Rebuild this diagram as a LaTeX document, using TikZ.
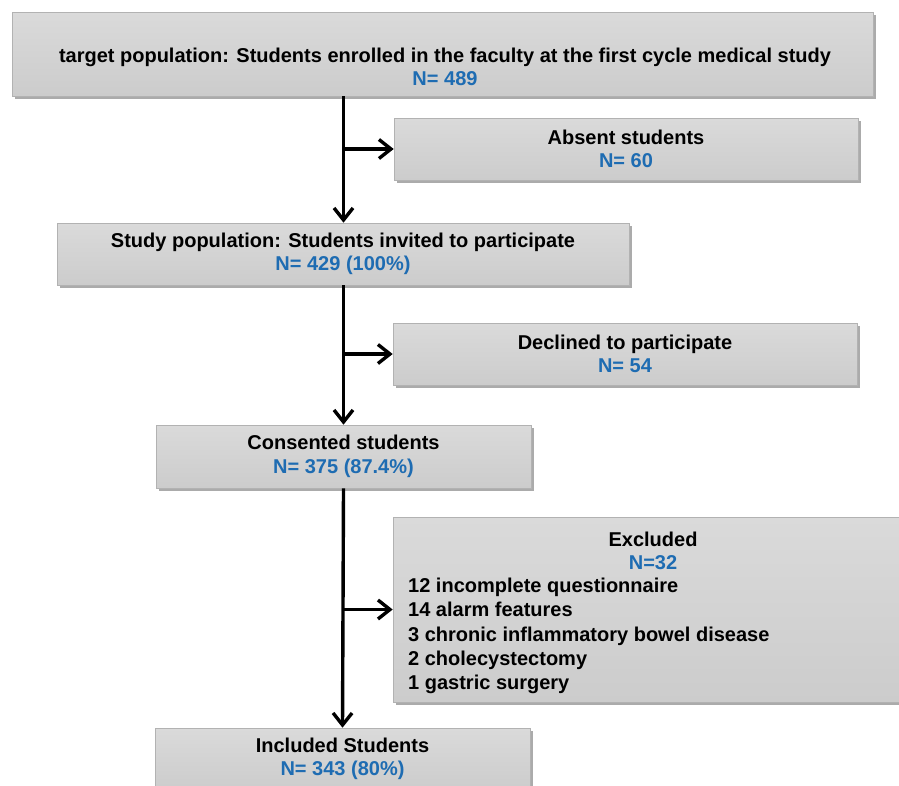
\documentclass[tikz,border=0pt]{standalone}
\usepackage{fontspec}
\setmainfont{Liberation Sans}
\usetikzlibrary{arrows.meta,shadows}

\definecolor{boxgray}{RGB}{204,204,204}
\definecolor{boxtop}{RGB}{218,218,218}
\definecolor{boxedge}{RGB}{178,178,178}
\definecolor{nblue}{RGB}{30,108,178}

\newcommand{\nval}[1]{\textcolor{nblue}{#1}}

\tikzset{
  boxfont/.style={font=\fontsize{20}{23.5}\selectfont\bfseries},
  box/.style={rectangle, draw=boxedge, line width=0.6pt, top color=boxtop, bottom color=boxgray,
    inner sep=0pt, align=center, boxfont,
    drop shadow={shadow xshift=2.5pt, shadow yshift=-3pt, fill=black!60, opacity=0.55}},
  flow/.style={line width=3.4pt, -{Straight Barb[length=12pt,width=19pt]}},
}

\begin{document}
\begin{tikzpicture}[x=1pt,y=-1pt]

  \path[use as bounding box, fill=white] (0,0) rectangle (899,785);
  \clip (0,0) rectangle (899,785);

  % boxes
  \node[box, minimum width=861pt, minimum height=84pt] (target) at (442.5,54) {};
  \node[boxfont, align=center, inner sep=0pt] (targettext) at (445,67)
    {target population: Students enrolled in the faculty at the first cycle medical study\\\nval{N= 489}};

  \node[box, minimum width=464pt, minimum height=62pt] (absent) at (626,149)
    {Absent students\\\nval{N= 60}};

  \node[box, minimum width=572pt, minimum height=62pt] (study) at (343,254)
    {Study population: Students invited to participate\\\nval{N= 429 (100\%)}};

  \node[box, minimum width=464pt, minimum height=62pt] (declined) at (625,354)
    {Declined to participate\\\nval{N= 54}};

  \node[box, minimum width=375pt, minimum height=63pt] (consented) at (343.5,456.5)
    {Consented students\\\nval{N= 375 (87.4\%)}};

  \node[box, minimum width=519pt, minimum height=185pt] (excluded) at (652.5,609.5) {};
  \node[boxfont, align=center, inner sep=0pt] (exhead) at (653,551)
    {Excluded\\\nval{N=32}};
  \node[boxfont, align=left, anchor=west, inner sep=0pt, font=\fontsize{20}{24.2}\selectfont\bfseries] (exlist) at (408,636)
    {12 incomplete questionnaire\\14 alarm features\\3 chronic inflammatory bowel disease\\2 cholecystectomy\\1 gastric surgery};

  \node[box, minimum width=375pt, minimum height=62pt] (included) at (342.5,759)
    {Included Students\\\nval{N= 343 (80\%)}};

  % main line
  \draw[flow] (target.south -| consented.north) -- (study.north -| consented.north);
  \draw[flow] (study.south -| consented.north) -- (consented.north);
  \draw[flow] (consented.south) -- (included.north);

  % side branches
  \draw[flow] (absent.west -| consented.north) -- (absent.west);
  \draw[flow] (declined.west -| consented.north) -- (declined.west);
  \draw[flow] (excluded.west -| consented.north) -- (excluded.west);

\end{tikzpicture}
\end{document}
